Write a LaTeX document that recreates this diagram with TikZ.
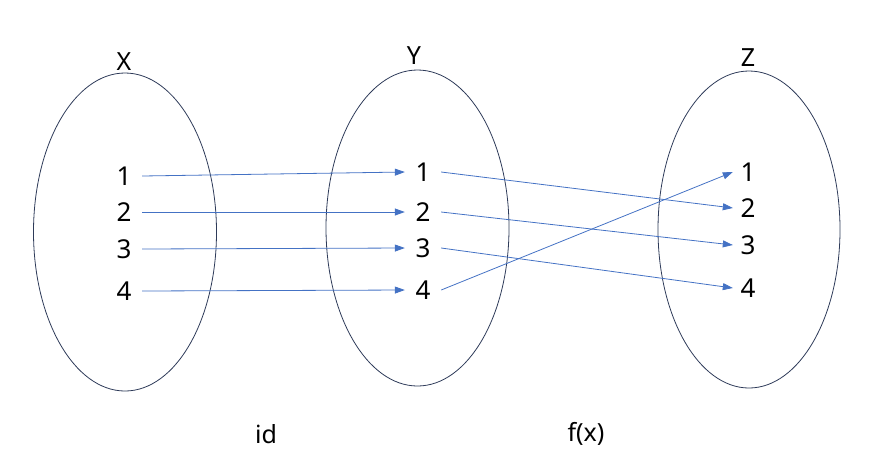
\documentclass[tikz,border=0pt]{standalone}
\usepackage{fontspec}
\setmainfont{Noto Sans}
\usetikzlibrary{arrows.meta}
\definecolor{setline}{HTML}{2E3B59}
\definecolor{maparrow}{HTML}{4472C4}

\begin{document}
\begin{tikzpicture}[x=1pt,y=-1pt,
  num/.style={minimum width=36pt,inner sep=0pt,font=\fontsize{26}{30}\selectfont},
  setname/.style={font=\fontsize{25}{29}\selectfont},
  maps/.style={draw=maparrow,line width=0.8pt,-{Triangle[length=10pt,width=7pt]}}]
\useasboundingbox (0,0) rectangle (874,475);
\draw[setline,line width=0.8pt] (125,232) ellipse (91.5 and 159);
\draw[setline,line width=0.8pt] (417.5,228) ellipse (91.5 and 158);
\draw[setline,line width=0.8pt] (749,229.5) ellipse (91 and 158.5);
\node[setname] (nX) at (124,62) {X};
\node[setname] (nY) at (414,56) {Y};
\node[setname] (nZ) at (748,58) {Z};
\node[num] (x1) at (124,176) {1};
\node[num] (x2) at (124,212) {2};
\node[num] (x3) at (124,249) {3};
\node[num] (x4) at (124,291) {4};
\node[num] (y1) at (423,172) {1};
\node[num] (y2) at (423,212) {2};
\node[num] (y3) at (423,248) {3};
\node[num] (y4) at (423,290) {4};
\node[num,minimum width=30pt] (z1) at (748,172) {1};
\node[num,minimum width=30pt] (z2) at (748,208) {2};
\node[num,minimum width=30pt] (z3) at (748,245) {3};
\node[num,minimum width=30pt] (z4) at (748,288) {4};
\draw[maps] (x1.east) -- (y1.west);
\draw[maps] (x2.east) -- (y2.west);
\draw[maps] (x3.east) -- (y3.west);
\draw[maps] (x4.east) -- (y4.west);
\draw[maps] (y1.east) -- (z2.west);
\draw[maps] (y2.east) -- (z3.west);
\draw[maps] (y3.east) -- (z4.west);
\draw[maps] (y4.east) -- (z1.west);
\node[setname] (lid) at (266,434) {id};
\node[setname] (lf) at (586,434) {f(x)};
\end{tikzpicture}
\end{document}
